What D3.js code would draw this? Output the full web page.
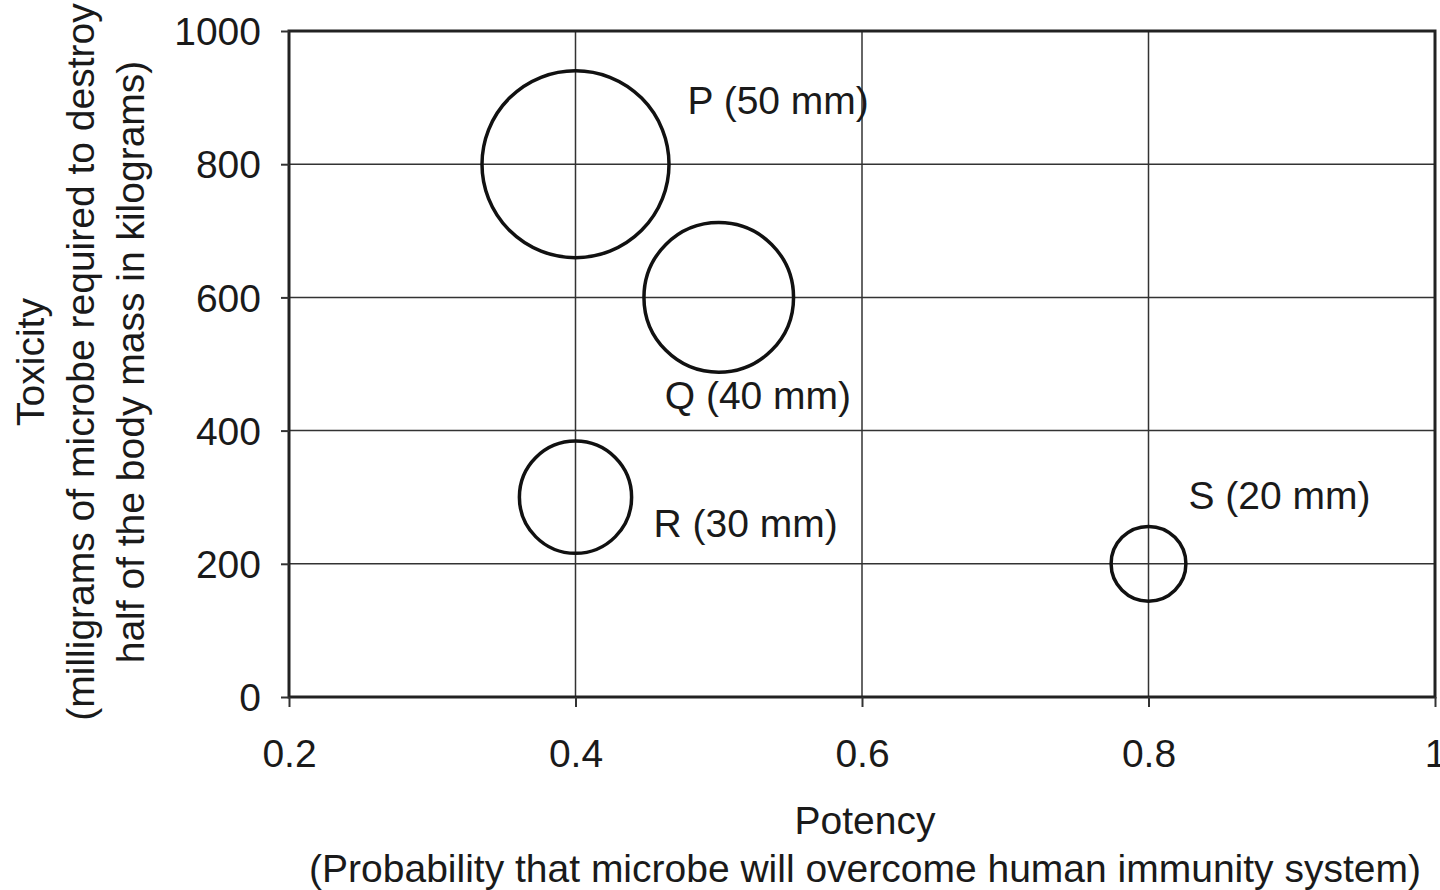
<!DOCTYPE html>
<html>
<head>
<meta charset="utf-8">
<script src="https://d3js.org/d3.v7.min.js"></script>
<style>
body { margin:0; background:#fff; }
svg text { font-family: "Liberation Sans", Arial, sans-serif; fill:#1a1a1a; }
</style>
</head>
<body>
<div id="chart"></div>
<script>
// microbe data
var names = ["P", "Q", "R", "S"];
var potency = [0.4, 0.5, 0.4, 0.8];
var toxicity = [800, 600, 300, 200];
var sizeMm = [50, 40, 30, 20];
var xTicks = [0.2, 0.4, 0.6, 0.8, 1];
var yTicks = [0, 200, 400, 600, 800, 1000];

var W = 1440, H = 890;
var padL = 289, padR = 1435, padT = 31, padB = 697;
var fs = "39px";

var svg = d3.select("#chart").append("svg")
    .attr("width", W)
    .attr("height", H);

var x = d3.scaleLinear().domain([0.2, 1]).range([padL, padR]);
var y = d3.scaleLinear().domain([0, 1000]).range([padB, padT]);
var r = d3.scaleLinear().domain([0, 50]).range([0, 93.5]);

// grid
svg.append("g").selectAll("line")
   .data(xTicks.slice(1, -1)).enter().append("line")
   .attr("x1", d => x(d)).attr("x2", d => x(d))
   .attr("y1", padT).attr("y2", padB)
   .attr("stroke", "#333").attr("stroke-width", 1.5);

svg.append("g").selectAll("line")
   .data(yTicks.slice(1, -1)).enter().append("line")
   .attr("x1", padL).attr("x2", padR)
   .attr("y1", d => y(d)).attr("y2", d => y(d))
   .attr("stroke", "#333").attr("stroke-width", 1.5);

// frame
svg.append("rect")
   .attr("x", padL).attr("y", padT)
   .attr("width", padR - padL).attr("height", padB - padT)
   .attr("fill", "none").attr("stroke", "#222").attr("stroke-width", 3);

// axes (ticks + labels only, frame drawn above)
var xAxis = svg.append("g")
   .attr("transform", "translate(0," + padB + ")")
   .call(d3.axisBottom(x).tickValues(xTicks).tickSize(10).tickPadding(32)
         .tickFormat(d => d === 1 ? "1" : d3.format(".1f")(d)));
var yAxis = svg.append("g")
   .attr("transform", "translate(" + padL + ",0)")
   .call(d3.axisLeft(y).tickValues(yTicks).tickSize(8).tickPadding(20)
         .tickFormat(d3.format("d")));

[xAxis, yAxis].forEach(function (a) {
  a.select(".domain").remove();
  a.selectAll(".tick line").attr("stroke", "#333").attr("stroke-width", 2);
  a.selectAll("text").style("font-size", fs).attr("fill", "#1a1a1a");
});
yAxis.selectAll("text").attr("dy", "0.35em");

// bubbles
svg.append("g").selectAll("circle")
   .data(names).enter().append("circle")
   .attr("cx", (d, i) => x(potency[i]))
   .attr("cy", (d, i) => y(toxicity[i]))
   .attr("r", (d, i) => r(sizeMm[i]))
   .attr("fill", "none")
   .attr("stroke", "#111")
   .attr("stroke-width", 3.5);

// bubble labels, offset from each centre
var labelDx = [112, -54, 78, 40];
var labelDy = [-50, 112, 40, -55];
svg.append("g").selectAll("text")
   .data(names).enter().append("text")
   .attr("x", (d, i) => x(potency[i]) + labelDx[i])
   .attr("y", (d, i) => y(toxicity[i]) + labelDy[i])
   .style("font-size", fs)
   .text((d, i) => d + " (" + sizeMm[i] + " mm)");

// axis titles
svg.append("text")
   .attr("x", 865).attr("y", 834)
   .attr("text-anchor", "middle").style("font-size", fs)
   .text("Potency");
svg.append("text")
   .attr("x", 865).attr("y", 882)
   .attr("text-anchor", "middle").style("font-size", fs)
   .text("(Probability that microbe will overcome human immunity system)");

var yTitle = [
  "Toxicity",
  "(milligrams of microbe required to destroy",
  "half of the body mass in kilograms)"
];
svg.append("g").selectAll("text")
   .data(yTitle).enter().append("text")
   .attr("transform", (d, i) => "translate(" + (44 + i * 50) + ",362) rotate(-90)")
   .attr("text-anchor", "middle").style("font-size", fs)
   .text(d => d);
</script>
</body>
</html>
